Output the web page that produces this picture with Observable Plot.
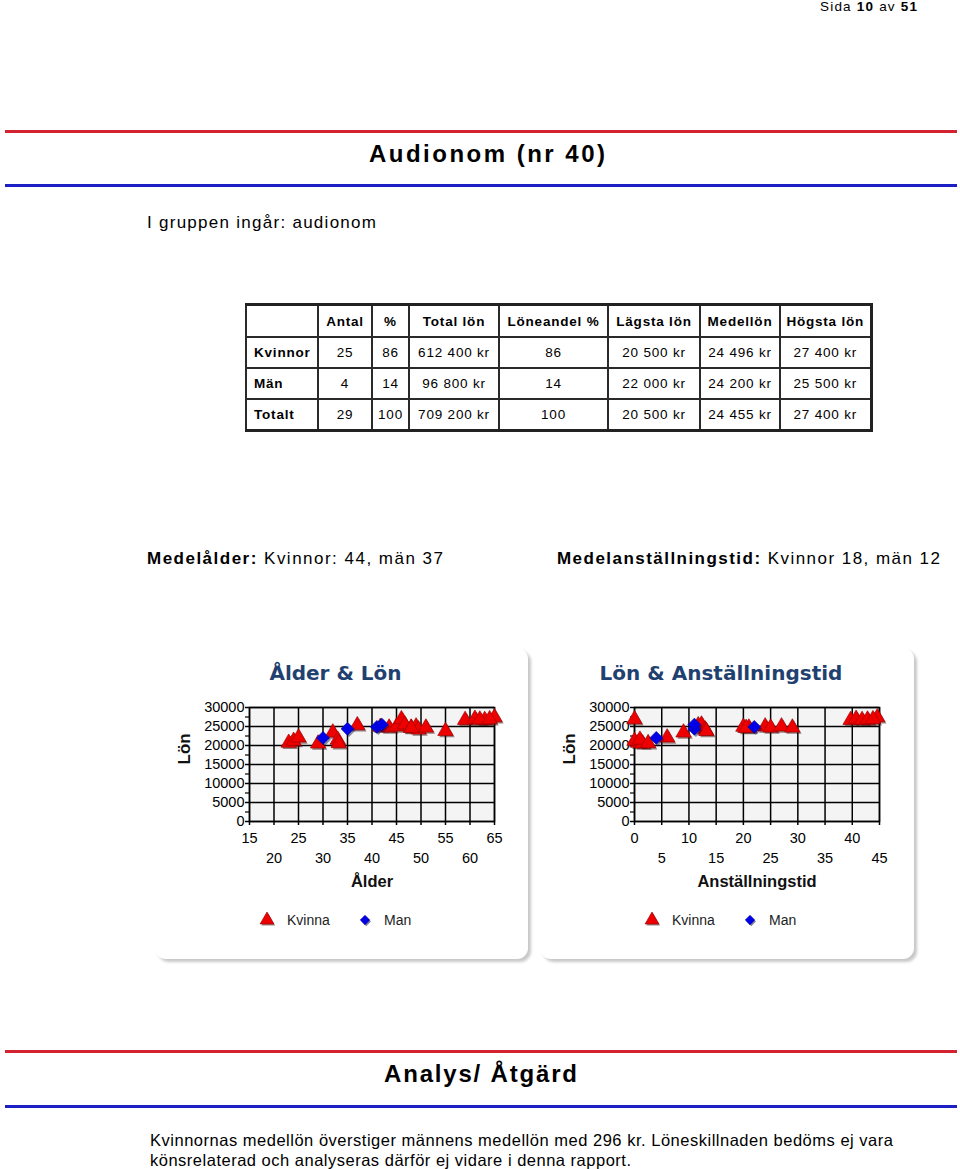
<!DOCTYPE html>
<html><head><meta charset="utf-8">
<script src="https://cdn.jsdelivr.net/npm/d3@7"></script>
<script src="https://cdn.jsdelivr.net/npm/@observablehq/plot@0.6"></script>
<style>
html,body{margin:0;padding:0;background:#fff;}
#page{position:relative;width:960px;height:1169px;overflow:hidden;font-family:"Liberation Sans",Arial,sans-serif;color:#000;}
.abs{position:absolute;white-space:nowrap;}
.rule{position:absolute;left:5px;width:952px;height:3px;}
.red{background:#d42330;}
.blue{background:#1b1fc4;}
table.stat{position:absolute;left:245px;top:303px;border-collapse:collapse;table-layout:fixed;width:625px;font-size:13.5px;letter-spacing:0.8px;border-top:3px solid #222;border-right:3px solid #222;border-bottom:3px solid #222;border-left:2px solid #222;}
table.stat td{border:2px solid #2a2a2a;height:29px;padding:0;text-align:center;white-space:nowrap;}
table.stat tr.head td{font-weight:bold;height:30px;}
table.stat td.lab{text-align:left;padding-left:7px;font-weight:bold;}
.card{position:absolute;top:648px;height:311px;background:#fff;border-radius:11px;box-shadow:3px 3px 3px rgba(0,0,0,0.22);}
.ctitle{position:absolute;top:11px;left:0;text-align:center;font-family:"DejaVu Sans",Verdana,sans-serif;font-weight:bold;font-size:20px;color:#1f4170;line-height:28px;}
.plotwrap{position:absolute;left:0;top:42px;}
.leg{position:absolute;top:262px;left:0;height:20px;font-size:14px;color:#222;}
.leg span{position:absolute;top:1px;line-height:18px;}
</style>
</head>
<body>
<div id="page"></div>
<script>
// ---------- data ----------
const pageInfo = ["10", "51"];
const pageTitle = "Audionom (nr 40)";
const groupText = "I gruppen ingår: audionom";
const tableHeaders = ["", "Antal", "%", "Total lön", "Löneandel %", "Lägsta lön", "Medellön", "Högsta lön"];
const rowLabels = ["Kvinnor", "Män", "Totalt"];
const antal = [25, 4, 29];
const procent = [86, 14, 100];
const totalLon = ["612 400 kr", "96 800 kr", "709 200 kr"];
const loneandel = [86, 14, 100];
const lagstaLon = ["20 500 kr", "22 000 kr", "20 500 kr"];
const medelLon = ["24 496 kr", "24 200 kr", "24 455 kr"];
const hogstaLon = ["27 400 kr", "25 500 kr", "27 400 kr"];
const medelalder = ["44", "37"];
const medelanst = ["18", "12"];
const analysLines = [
  "Kvinnornas medellön överstiger männens medellön med 296 kr. Löneskillnaden bedöms ej vara",
  "könsrelaterad och analyseras därför ej vidare i denna rapport."
];
const seriesNames = ["Kvinna", "Man"];

// Kvinna (25 women)
const kvinnaAge    = [23, 24, 25, 29, 32, 33, 33.2, 37, 41.7, 43.5, 45, 46, 46.7, 48, 49, 49.5, 51, 55, 59, 61, 63, 65, 62, 64, 48];
const kvinnaTenure = [0.7, 0, 6, 1.5, 9, 1, 2.5, 11.7, 20, 21, 24, 0, 12.3, 25, 27, 13, 29, 13.2, 39.7, 40.7, 41.8, 44.6, 42.8, 43.8, 20.5];
const kvinnaSalary = [20700, 21200, 22100, 20500, 23400, 21500, 20600, 25300, 24900, 24700, 25000, 26900, 25500, 24700, 25000, 24200, 24700, 23800, 26700, 27000, 26700, 27400, 26800, 26900, 24600];
// Man (4 men)
const manAge    = [30, 35, 41, 42];
const manTenure = [4, 11, 22, 11];
const manSalary = [22000, 24400, 24900, 25500];

// axis ticks
const yTicks = [0, 5000, 10000, 15000, 20000, 25000, 30000];
const yMinor = [2500, 7500, 12500, 17500, 22500, 27500];
const ageTop = [15, 25, 35, 45, 55, 65];
const ageBottom = [20, 30, 40, 50, 60];
const tenureTop = [0, 10, 20, 30, 40];
const tenureBottom = [5, 15, 25, 35, 45];

// ---------- layout helpers ----------
const page = document.getElementById("page");
function fit(el, target) {
  el.style.letterSpacing = "0px";
  const w = el.getBoundingClientRect().width;
  const n = el.textContent.length;
  el.style.letterSpacing = ((target - w) / (n - 1)) + "px";
}
function place(html, {left, cy, size, width, weight = "normal"}) {
  const el = document.createElement("div");
  el.className = "abs";
  el.innerHTML = html;
  el.style.left = left + "px";
  el.style.fontSize = size + "px";
  el.style.lineHeight = Math.round(size * 1.2) + "px";
  el.style.top = (cy - size * 0.62) + "px";
  el.style.fontWeight = weight;
  page.appendChild(el);
  if (width) fit(el, width);
  return el;
}
function rule(cls, top) {
  const el = document.createElement("div");
  el.className = "rule " + cls;
  el.style.top = top + "px";
  page.appendChild(el);
}

place(`Sida <b>${pageInfo[0]}</b> av <b>${pageInfo[1]}</b>`, {left: 820, cy: 7, size: 13.5, width: 97});
rule("red", 130);
place(pageTitle, {left: 369, cy: 154, size: 24, width: 236, weight: "bold"});
rule("blue", 184);
place(groupText, {left: 147, cy: 224, size: 17, width: 229});

// table
const tbl = document.createElement("table");
tbl.className = "stat";
const colW = [72, 54, 37, 90, 109, 92, 80, 91];
const cg = document.createElement("colgroup");
colW.forEach(w => { const c = document.createElement("col"); c.style.width = w + "px"; cg.appendChild(c); });
tbl.appendChild(cg);
const hr = tbl.insertRow(); hr.className = "head";
tableHeaders.forEach(h => { const c = hr.insertCell(); c.textContent = h; });
rowLabels.forEach((lab, i) => {
  const r = tbl.insertRow();
  const vals = [lab, antal[i], procent[i], totalLon[i], loneandel[i], lagstaLon[i], medelLon[i], hogstaLon[i]];
  vals.forEach((v, j) => { const c = r.insertCell(); c.textContent = v; if (j === 0) c.className = "lab"; });
});
page.appendChild(tbl);

place(`<b>Medelålder:</b> Kvinnor: ${medelalder[0]}, män ${medelalder[1]}`, {left: 147, cy: 560, size: 17, width: 296});
place(`<b>Medelanställningstid:</b> Kvinnor ${medelanst[0]}, män ${medelanst[1]}`, {left: 557, cy: 560, size: 17, width: 383});

rule("red", 1050);
place("Analys/ Åtgärd", {left: 384, cy: 1074, size: 24, width: 193, weight: "bold"});
rule("blue", 1105);
place(analysLines[0], {left: 150, cy: 1140, size: 16.5, width: 743});
place(analysLines[1], {left: 150, cy: 1160, size: 16.5, width: 481});

// ---------- charts ----------
const COL_K = "#ee0000", COL_M = "#0000e8";
function scatter({width, marginRight, xDomain, topTicks, bottomTicks, xLabel, kx, ky, mx, my}) {
  const women = kx.map((x, i) => ({x, y: ky[i]}));
  const men = mx.map((x, i) => ({x, y: my[i]}));
  const grid = [...topTicks, ...bottomTicks].sort((a, b) => a - b);
  return Plot.plot({
    width, height: 210,
    marginLeft: 94, marginRight, marginTop: 17, marginBottom: 79,
    x: {domain: xDomain, label: null},
    y: {domain: [0, 30000], label: null},
    style: {fontFamily: "'Liberation Sans', Arial, sans-serif", fontSize: "14.5px", color: "#000", background: "transparent", overflow: "visible"},
    marks: [
      Plot.frame({fill: "#f4f4f4", stroke: null}),
      Plot.gridX({ticks: grid, stroke: "#000", strokeOpacity: 1, strokeWidth: 1.5}),
      Plot.gridY({ticks: yTicks, stroke: "#000", strokeOpacity: 1, strokeWidth: 1.5}),
      Plot.axisY({ticks: yMinor, tickSize: 4, tickFormat: () => "", label: null, strokeWidth: 1.2}),
      Plot.axisY({ticks: yTicks, tickSize: 4, tickPadding: 1, tickFormat: d3.format("d"), label: null, strokeWidth: 1.5}),
      Plot.axisX({ticks: topTicks, tickSize: 4, tickPadding: 7, label: null, strokeWidth: 1.5}),
      Plot.axisX({ticks: bottomTicks, tickSize: 4, tickPadding: 27, label: null, strokeWidth: 1.5}),
      Plot.frame({stroke: "#000", strokeWidth: 1.5}),
      Plot.dot(women, {x: "x", y: "y", symbol: "triangle", r: 5.7, fill: "#3a0808", fillOpacity: 0.5, dx: 1.5, dy: 1.8}),
      Plot.dot(women, {x: "x", y: "y", symbol: "triangle", r: 5.7, fill: COL_K, stroke: "#a00000", strokeWidth: 0.7}),
      Plot.dot(men, {x: "x", y: "y", symbol: "diamond2", r: 5.8, fill: "#08083a", fillOpacity: 0.45, dx: 1.5, dy: 1.8}),
      Plot.dot(men, {x: "x", y: "y", symbol: "diamond2", r: 5.8, fill: COL_M, stroke: "#0000a0", strokeWidth: 0.7}),
      Plot.text([xLabel], {frameAnchor: "bottom", dy: 65, fontWeight: "bold", fontSize: 16.5, fill: "#111"}),
      Plot.text(["Lön"], {frameAnchor: "left", dx: -65, rotate: -90, fontWeight: "bold", fontSize: 17, fill: "#111"})
    ]
  });
}

function legendSym(type, color, shadow, size) {
  const p = d3.symbol(type, size)();
  return `<svg width="20" height="20" viewBox="-10 -10 20 20"><path d="${p}" transform="translate(1.3,1.6)" fill="${shadow}" fill-opacity="0.5"/><path d="${p}" fill="${color}" stroke="${color === COL_K ? '#a00000' : '#0000a0'}" stroke-width="0.7"/></svg>`;
}

function card(left, width, title, plot) {
  const c = document.createElement("div");
  c.className = "card";
  c.style.left = left + "px";
  c.style.width = width + "px";
  const t = document.createElement("div");
  t.className = "ctitle";
  t.style.width = (width - 12) + "px";
  t.textContent = title;
  c.appendChild(t);
  const w = document.createElement("div");
  w.className = "plotwrap";
  w.appendChild(plot);
  c.appendChild(w);
  const lg = document.createElement("div");
  lg.className = "leg";
  lg.style.width = width + "px";
  lg.innerHTML =
    `<div style="position:absolute;left:${112 - 10}px;top:0">${legendSym(d3.symbolTriangle, COL_K, "#3a0808", 5.1 * 5.1 * Math.PI)}</div>` +
    `<span style="left:132px">${seriesNames[0]}</span>` +
    `<div style="position:absolute;left:${210 - 10}px;top:0">${legendSym(d3.symbolDiamond2, COL_M, "#08083a", 4.2 * 4.2 * Math.PI)}</div>` +
    `<span style="left:229px">${seriesNames[1]}</span>`;
  c.appendChild(lg);
  page.appendChild(c);
}

card(155, 373, "Ålder & Lön", scatter({
  width: 373, marginRight: 34, xDomain: [15, 65],
  topTicks: ageTop, bottomTicks: ageBottom, xLabel: "Ålder",
  kx: kvinnaAge, ky: kvinnaSalary, mx: manAge, my: manSalary
}));
card(540, 374, "Lön & Anställningstid", scatter({
  width: 374, marginRight: 35, xDomain: [0, 45],
  topTicks: tenureTop, bottomTicks: tenureBottom, xLabel: "Anställningstid",
  kx: kvinnaTenure, ky: kvinnaSalary, mx: manTenure, my: manSalary
}));
</script>
</body></html>
